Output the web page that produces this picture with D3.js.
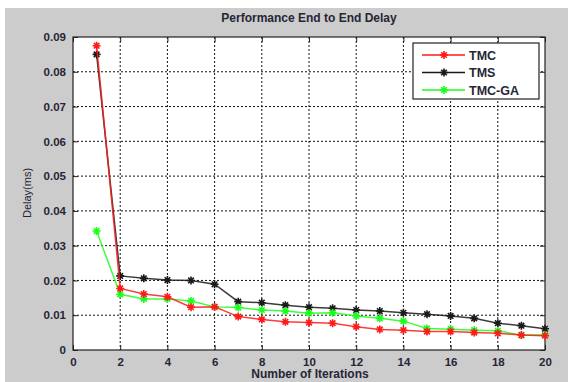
<!DOCTYPE html><html><meta charset="UTF-8">
<title>Performance End to End Delay</title>
<style>
  body { margin: 0; background: #fff; overflow: hidden; }
  text { font-family: "Liberation Sans", Arial, sans-serif; fill: #262636; }
  .grid line { stroke: #111; stroke-dasharray: 2,2; stroke-width: 1; }
  .tick text { font-size: 11.5px; font-weight: bold; }
</style>
<script src="https://cdn.jsdelivr.net/npm/d3@7"></script>
<svg width="568" height="382"></svg>
<script>
var iterations = d3.range(1, 21);
var tmc   = [0.0875, 0.0177, 0.0161, 0.0153, 0.0123, 0.0124, 0.0096, 0.0088, 0.0081, 0.0079,
             0.0077, 0.0067, 0.0059, 0.0057, 0.0053, 0.0053, 0.0050, 0.0048, 0.0043, 0.0041];
var tms   = [0.0850, 0.0213, 0.0206, 0.0201, 0.0200, 0.0189, 0.0139, 0.0136, 0.0129, 0.0123,
             0.0120, 0.0115, 0.0112, 0.0107, 0.0103, 0.0098, 0.0091, 0.0077, 0.0070, 0.0061];
var tmcga = [0.0342, 0.0160, 0.0147, 0.0147, 0.0141, 0.0124, 0.0122, 0.0115, 0.0112, 0.0106,
             0.0107, 0.0098, 0.0091, 0.0083, 0.0062, 0.0060, 0.0057, 0.0055, 0.0043, 0.0043];
var seriesNames = ["TMC", "TMS", "TMC-GA"];
var seriesColors = ["#ff1a1a", "#1a1a1a", "#1aff1a"];
var xTicks = d3.range(0, 21, 2);
var yTicks = d3.range(0, 0.091, 0.01);

var svg = d3.select("svg");
var margin = {left: 73, top: 37, right: 545, bottom: 350};

// gray figure background (white strip at top/left like the screenshot)
svg.append("rect").attr("x", 5).attr("y", 8).attr("width", 563).attr("height", 374).attr("fill", "#cccccc");

var x = d3.scaleLinear().domain([0, 20]).range([margin.left, margin.right]);
var y = d3.scaleLinear().domain([0, 0.09]).range([margin.bottom, margin.top]);

svg.append("rect")
  .attr("x", margin.left).attr("y", margin.top)
  .attr("width", margin.right - margin.left).attr("height", margin.bottom - margin.top)
  .attr("fill", "white");

// grid
var grid = svg.append("g").attr("class", "grid");
grid.selectAll(".gx").data(xTicks.slice(1, -1)).enter().append("line")
  .attr("x1", d => x(d)).attr("x2", d => x(d))
  .attr("y1", margin.top).attr("y2", margin.bottom);
grid.selectAll(".gy").data(yTicks.slice(1, -1)).enter().append("line")
  .attr("y1", d => y(d)).attr("y2", d => y(d))
  .attr("x1", margin.left).attr("x2", margin.right);

// axes (ticks inward, box like matlab)
var fmt = d => d === 0 ? "0" : d3.format(".2f")(d);
svg.append("g").attr("transform", "translate(0," + margin.bottom + ")")
  .call(d3.axisBottom(x).tickValues(xTicks).tickSizeInner(-5).tickSizeOuter(0).tickPadding(8))
  .call(g => g.select(".domain").remove());
svg.append("g").attr("transform", "translate(" + margin.left + ",0)")
  .call(d3.axisLeft(y).tickValues(yTicks).tickFormat(fmt).tickSizeInner(-5).tickSizeOuter(0).tickPadding(7))
  .call(g => g.select(".domain").remove());
svg.append("g").attr("transform", "translate(0," + margin.top + ")")
  .call(d3.axisTop(x).tickValues(xTicks).tickSizeInner(-5).tickSizeOuter(0).tickFormat(""))
  .call(g => g.select(".domain").remove());
svg.append("g").attr("transform", "translate(" + margin.right + ",0)")
  .call(d3.axisRight(y).tickValues(yTicks).tickSizeInner(-5).tickSizeOuter(0).tickFormat(""))
  .call(g => g.select(".domain").remove());
svg.selectAll(".tick line").attr("stroke", "#222");
svg.selectAll(".tick text").attr("fill", "#262636");

svg.append("rect")
  .attr("x", margin.left).attr("y", margin.top)
  .attr("width", margin.right - margin.left).attr("height", margin.bottom - margin.top)
  .attr("fill", "none").attr("stroke", "#222").attr("stroke-width", 1.2);

// series
var allSeries = [tmc, tms, tmcga];
var line = d3.line().x((d, i) => x(iterations[i])).y(d => y(d));
function star(g, cx, cy, color) {
  var r = 4, r2 = 2.8;
  g.append("path")
    .attr("d", "M" + (cx - r) + "," + cy + "H" + (cx + r) + "M" + cx + "," + (cy - r) + "V" + (cy + r) +
               "M" + (cx - r2) + "," + (cy - r2) + "L" + (cx + r2) + "," + (cy + r2) +
               "M" + (cx - r2) + "," + (cy + r2) + "L" + (cx + r2) + "," + (cy - r2))
    .attr("stroke", color).attr("stroke-width", 1.6).attr("fill", "none");
}
// draw order: TMS, TMC-GA, TMC
[1, 2, 0].forEach(function(k) {
  var g = svg.append("g");
  g.append("path").datum(allSeries[k]).attr("d", line)
    .attr("fill", "none").attr("stroke", seriesColors[k]).attr("stroke-width", 1.5).attr("stroke-opacity", 0.85);
  allSeries[k].forEach(function(v, i) { star(g, x(iterations[i]), y(v), seriesColors[k]); });
});

// legend
var lg = svg.append("g");
lg.append("rect").attr("x", 413).attr("y", 43).attr("width", 126).attr("height", 56)
  .attr("fill", "white").attr("stroke", "#222").attr("stroke-width", 1.2);
seriesNames.forEach(function(name, i) {
  var ly = 55 + i * 17.5;
  lg.append("line").attr("x1", 422).attr("x2", 465).attr("y1", ly).attr("y2", ly)
    .attr("stroke", seriesColors[i]).attr("stroke-width", 1.5);
  star(lg, 444, ly, seriesColors[i]);
  lg.append("text").attr("x", 469).attr("y", ly + 4.5).attr("font-size", 12.5)
    .attr("font-weight", "bold").text(name);
});

// titles
svg.append("text").attr("x", 309).attr("y", 22).attr("text-anchor", "middle")
  .attr("font-size", 12).attr("font-weight", "bold").text("Performance End to End Delay");
svg.append("text").attr("x", 310).attr("y", 378).attr("text-anchor", "middle")
  .attr("font-size", 12).attr("font-weight", "bold").text("Number of Iterations");
svg.append("text").attr("transform", "translate(31,193) rotate(-90)").attr("text-anchor", "middle")
  .attr("font-size", 11).text("Delay(ms)");
</script>
</html>
